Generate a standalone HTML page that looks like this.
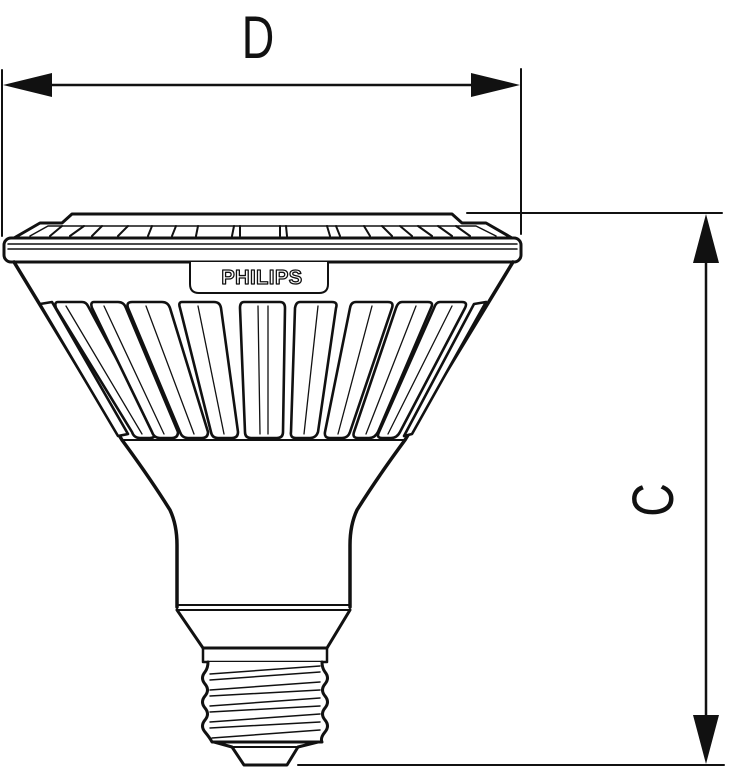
<!DOCTYPE html>
<html><head><meta charset="utf-8"><style>
html,body{margin:0;padding:0;background:#fff;}
svg{display:block;}
</style></head><body>
<svg width="733" height="768" viewBox="0 0 733 768" xmlns="http://www.w3.org/2000/svg">
<g stroke="#111" fill="none" stroke-linejoin="round" stroke-linecap="round">
<line x1="2" y1="70" x2="2" y2="236" stroke-width="2"/>
<line x1="521" y1="69" x2="521" y2="234" stroke-width="2"/>
<line x1="40" y1="85" x2="480" y2="85" stroke-width="2.5"/>
<line x1="467" y1="213" x2="722" y2="213" stroke-width="2"/>
<line x1="298" y1="765" x2="724" y2="765" stroke-width="2"/>
<line x1="706" y1="250" x2="706" y2="730" stroke-width="2.5"/>

<path d="M14,238 L40,223 L62,223 L72,214 L452,214 L462,223 L486,223 L512,238" stroke-width="3" fill="#fff"/>
<path d="M30,236 L48,226 L476,226 L496,236" stroke-width="1.5"/>
<g stroke-width="2">
<path d="M50,236 L62,226 M70,236 L84,226 M92,236 L102,226 M118,236 L128,226 M148,236 L152,226 M172,236 L176,226 M196,236 L198,226 M232,236 L234,226 M240,236 L240,226 M280,236 L280,226 M287,236 L286,226 M330,236 L327,226 M340,236 L336,226 M370,236 L364,226 M392,236 L382,226 M412,236 L400,226 M432,236 L418,226 M452,236 L438,226 M470,236 L456,226"/>
</g>
<rect x="4" y="238" width="517" height="24" rx="7" stroke-width="3" fill="#fff"/>
<line x1="8" y1="244" x2="517" y2="244" stroke-width="1.5"/>
<line x1="8" y1="249" x2="517" y2="249" stroke-width="1.5"/>

<path d="M14,262 L122,440 Q150,478 170,510 Q177,525 177,545 L177,607 M350,607 L350,545 Q350,525 357,510 Q377,478 405,440 L513,262" stroke-width="3.5"/>
<line x1="122" y1="440" x2="405" y2="440" stroke-width="2"/>
<path d="M190,262 L190,284 Q190,293 199,293 L319,293 Q328,293 328,284 L328,262" stroke-width="2" fill="#fff"/>
<text x="262" y="284" text-anchor="middle" font-family="Liberation Sans, sans-serif" font-weight="bold" font-size="20" fill="#fff" stroke="#111" stroke-width="1.3" letter-spacing="0.5">PHILIPS</text>

<g stroke-width="2.6" fill="#fff">
<path d="M40,304 L52,302 L128,434 L118,436 Z"/>
<path d="M58,302 L82,302 Q86,302 88,306 L156,432 Q156,438 150,438 L140,438 Q134,438 132,432 L56,308 Q54,302 58,302 Z"/>
<path d="M94,302 L118,302 Q124,302 126,308 L178,432 Q178,438 172,438 L160,438 Q154,438 152,432 L92,308 Q90,302 94,302 Z"/>
<path d="M132,302 L162,302 Q168,302 170,308 L208,432 Q208,438 202,438 L188,438 Q182,438 180,432 L128,308 Q126,302 132,302 Z"/>
<path d="M182,302 L214,302 Q220,302 221,308 L238,432 Q238,438 232,438 L218,438 Q212,438 211,432 L180,308 Q178,302 182,302 Z"/>
<path d="M244,302 L280,302 Q285,302 285,308 L283,432 Q283,438 277,438 L251,438 Q245,438 245,432 L240,308 Q240,302 244,302 Z"/>
<path d="M300,302 L332,302 Q338,302 336,308 L318,432 Q316,438 310,438 L296,438 Q290,438 291,432 L295,308 Q296,302 300,302 Z"/>
<path d="M356,302 L388,302 Q394,302 392,308 L350,432 Q348,438 342,438 L330,438 Q324,438 325,432 L350,308 Q351,302 356,302 Z"/>
<path d="M402,302 L428,302 Q434,302 431,308 L378,432 Q375,438 369,438 L358,438 Q352,438 354,432 L396,308 Q398,302 402,302 Z"/>
<path d="M440,302 L462,302 Q468,302 465,308 L400,432 Q397,438 391,438 L382,438 Q376,438 379,432 L434,308 Q436,302 440,302 Z"/>
<path d="M474,304 L486,302 L412,434 L404,436 Z"/>
</g>
<g stroke-width="1.3">
<path d="M66,306 L142,434 M104,306 L164,434 M146,306 L194,434 M198,306 L224,434 M258,306 L260,434 M268,306 L268,434 M318,306 L304,434 M372,306 L338,434 M416,306 L366,434 M452,306 L388,434"/>
</g>

<line x1="177" y1="605" x2="350" y2="605" stroke-width="2"/>
<line x1="177" y1="610" x2="350" y2="610" stroke-width="2"/>
<path d="M177,610 L203,648 L327,648 L350,610" stroke-width="3"/>
<rect x="203" y="648" width="124" height="14" stroke-width="2.5"/>
<path d="M208,662 Q208,668 205,672 Q200,678 205,684 Q210,690 205,696 Q200,702 205,708 Q210,714 205,720 Q200,726 205,732 Q210,738 212,742 L322,742 Q320,738 325,732 Q330,726 325,720 Q320,714 325,708 Q330,702 325,696 Q320,690 325,684 Q330,678 325,672 Q322,668 322,662" stroke-width="3" fill="#fff"/>
<g stroke-width="1.5">
<path d="M210,674 L320,666 M210,680 L320,672 M210,690 L320,682 M210,696 L320,690 M210,706 L320,698 M210,712 L320,706 M210,722 L320,714 M210,728 L320,722 M212,738 L320,730"/>
</g>
<path d="M214,742 L232,747 L244,765 L287,765 L298,747 L318,742" stroke-width="3"/>
<line x1="232" y1="747" x2="298" y2="747" stroke-width="2"/>
</g>

<g fill="#111">
<polygon points="3,85 52,73 52,97"/>
<polygon points="520,85 471,73 471,97"/>
<polygon points="706,214 693,263 719,263"/>
<polygon points="706,764 693,715 719,715"/>
</g>
<text transform="translate(258,58) scale(0.75,1)" text-anchor="middle" font-family="Liberation Sans, sans-serif" font-size="60" fill="#111">D</text>
<text transform="translate(673,500) rotate(-90) scale(0.8,1)" text-anchor="middle" font-family="Liberation Sans, sans-serif" font-size="58" fill="#111">C</text>
</svg>
</body></html>
